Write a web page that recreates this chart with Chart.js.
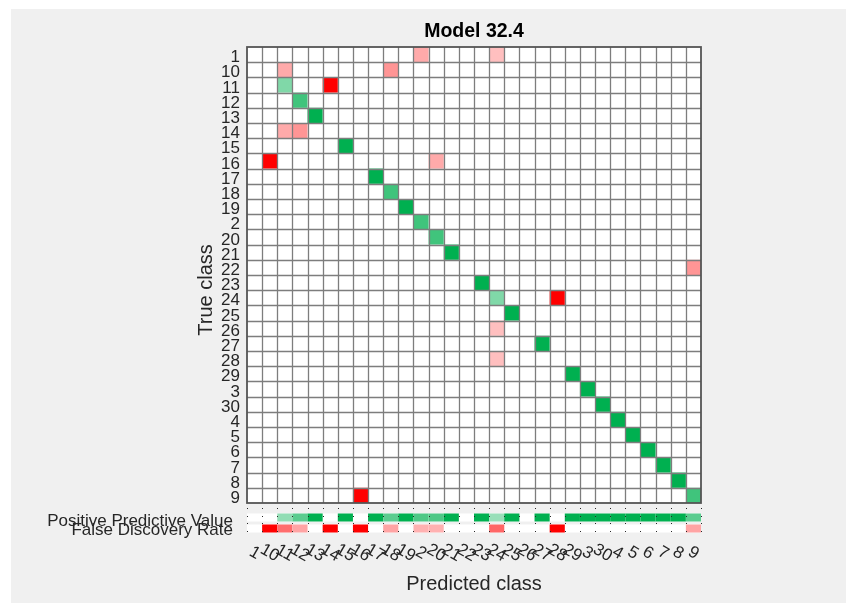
<!DOCTYPE html>
<html><head><meta charset="utf-8">
<script src="https://cdn.jsdelivr.net/npm/chart.js@4.4.1/dist/chart.umd.min.js"></script>
<style>html,body{margin:0;padding:0;background:#fff;overflow:hidden}#wrap{width:846px;height:603px}</style>
</head><body><div id="wrap"><canvas id="c" width="846" height="603"></canvas></div>
<script>
// Class order (as shown on both axes)
const classes = ['1','10','11','12','13','14','15','16','17','18','19','2','20','21','22','23','24','25','26','27','28','29','3','30','4','5','6','7','8','9'];
// Non-zero confusion matrix cells: true class, predicted class, count (estimated from colour intensity)
const trueLabels = ['1','1','10','10','11','11','12','13','14','14','15','16','16','17','18','19','2','20','21','22','23','24','24','25','26','27','28','29','3','30','4','5','6','7','8','9','9'];
const predLabels = ['2','24','11','18','11','14','12','13','11','12','15','10','20','17','18','19','2','20','21','9','23','24','28','25','24','27','24','29','3','30','4','5','6','7','8','9','16'];
const counts     = [4,3,4,5,6,12,9,12,4,5,12,12,4,12,9,12,9,9,12,5,12,6,12,12,3,12,3,12,12,12,12,12,12,12,12,9,12];
const chartTitle = 'Model 32.4';
const xTitle = 'Predicted class';
const yTitle = 'True class';
const summaryLabels = ['Positive Predictive Value','False Discovery Rate'];

const diagRGB = [0,176,80];
const offRGB = [255,0,0];
function tint(rgb, a){
  a = Math.max(0, Math.min(1, a));
  return 'rgb(' + rgb.map(c => Math.round(255 - a*(255 - c))).join(',') + ')';
}
const points = trueLabels.map((t,i) => ({x: classes.indexOf(predLabels[i]), y: classes.indexOf(t), v: counts[i]}));
const maxCount = Math.max(...counts);

// Column summaries derived from the matrix
const colTotals = classes.map((c,j) => points.filter(p => p.x === j).reduce((s,p) => s + p.v, 0));
const colDiag = classes.map((c,j) => points.filter(p => p.x === j && p.y === j).reduce((s,p) => s + p.v, 0));
const ppv = classes.map((c,j) => colTotals[j] ? colDiag[j]/colTotals[j] : null);
const fdr = ppv.map(v => v === null ? null : 1 - v);

const FONT = '"Liberation Sans", Arial, Helvetica, sans-serif';
const TXT = 'rgb(38,38,38)';

const confPlugin = {
  id: 'conf',
  beforeDraw(chart){
    const ctx = chart.ctx;
    ctx.save();
    ctx.fillStyle = '#ffffff';
    ctx.fillRect(0,0,chart.width,chart.height);
    ctx.fillStyle = '#f0f0f0';
    ctx.fillRect(11,9,chart.width-11,chart.height-9);
    ctx.restore();
  },
  afterDatasetsDraw(chart){
    const ctx = chart.ctx;
    const xs = chart.scales.x, ys = chart.scales.y;
    const a = chart.chartArea;
    const n = classes.length;
    ctx.save();
    ctx.fillStyle = '#ffffff';
    ctx.fillRect(a.left, a.top, a.right - a.left, a.bottom - a.top);
    const ds = chart.data.datasets[0].data;
    ds.forEach(p => {
      const x0 = xs.getPixelForValue(p.x - 0.5), x1 = xs.getPixelForValue(p.x + 0.5);
      const y0 = ys.getPixelForValue(p.y - 0.5), y1 = ys.getPixelForValue(p.y + 0.5);
      ctx.fillStyle = tint(p.x === p.y ? diagRGB : offRGB, p.v / maxCount);
      ctx.fillRect(x0, y0, x1 - x0, y1 - y0);
    });
    ctx.strokeStyle = 'rgb(125,125,125)';
    ctx.lineWidth = 1.3;
    for (let k = 1; k < n; k++){
      const x = Math.round(xs.getPixelForValue(k - 0.5)) + 0.5;
      ctx.beginPath(); ctx.moveTo(x, a.top); ctx.lineTo(x, a.bottom); ctx.stroke();
      const y = Math.round(ys.getPixelForValue(k - 0.5)) + 0.5;
      ctx.beginPath(); ctx.moveTo(a.left, y); ctx.lineTo(a.right, y); ctx.stroke();
    }
    ctx.strokeStyle = 'rgb(85,85,85)';
    ctx.lineWidth = 1.8;
    ctx.strokeRect(a.left, a.top, a.right - a.left, a.bottom - a.top);

    // summary rows
    const bandTops = [a.bottom + 10.5, a.bottom + 21.5];
    const bandH = 8;
    ctx.fillStyle = '#ffffff';
    bandTops.forEach(t => ctx.fillRect(a.left, t, a.right - a.left, bandH));
    for (let j = 0; j < n; j++){
      const x0 = xs.getPixelForValue(j - 0.5), x1 = xs.getPixelForValue(j + 0.5);
      if (ppv[j] !== null && ppv[j] > 0){ ctx.fillStyle = tint(diagRGB, ppv[j]); ctx.fillRect(x0, bandTops[0], x1 - x0, bandH); }
      if (fdr[j] !== null && fdr[j] > 0){ ctx.fillStyle = tint(offRGB, fdr[j]); ctx.fillRect(x0, bandTops[1], x1 - x0, bandH); }
    }
    ctx.fillStyle = 'rgb(40,40,40)';
    for (let k = 0; k <= n; k++){
      const x = Math.round(xs.getPixelForValue(k - 0.5));
      [5, 12.5, 20, 27.5].forEach(d => ctx.fillRect(x, Math.round(a.bottom + d), 1, 1));
    }

    // y tick labels
    ctx.fillStyle = TXT;
    ctx.font = '17px ' + FONT;
    ctx.textAlign = 'right';
    ctx.textBaseline = 'alphabetic';
    classes.forEach((c,i) => ctx.fillText(c, a.left - 7, ys.getPixelForValue(i) + 7.5));
    ctx.fillText(summaryLabels[0], a.left - 14, a.bottom + 22.5);
    ctx.fillText(summaryLabels[1], a.left - 14, a.bottom + 32);
    // x tick labels (rotated clockwise)
    ctx.textAlign = 'center';
    ctx.textBaseline = 'middle';
    classes.forEach((c,j) => {
      ctx.save();
      ctx.translate(xs.getPixelForValue(j), a.bottom + 50);
      ctx.rotate(Math.PI * 30 / 180);
      ctx.fillText(c, 0, 0);
      ctx.restore();
    });
    // titles
    const cx = (a.left + a.right) / 2;
    ctx.font = '20px ' + FONT;
    ctx.textBaseline = 'alphabetic';
    ctx.fillText(xTitle, cx, a.bottom + 87);
    ctx.save();
    ctx.translate(a.left - 35, (a.top + a.bottom + 30) / 2);
    ctx.rotate(-Math.PI / 2);
    ctx.fillText(yTitle, 0, 0);
    ctx.restore();
    ctx.fillStyle = '#000';
    ctx.font = 'bold 19.5px ' + FONT;
    ctx.fillText(chartTitle, cx, a.top - 10);
    ctx.restore();
  }
};

new Chart(document.getElementById('c').getContext('2d'), {
  type: 'scatter',
  data: { datasets: [{ data: points, pointRadius: 0, pointHoverRadius: 0, pointHitRadius: 0 }] },
  options: {
    responsive: false, animation: false, devicePixelRatio: 1,
    layout: { padding: { left: 247, top: 47, right: 145, bottom: 100 } },
    scales: {
      x: { type: 'linear', min: -0.5, max: 29.5, display: false },
      y: { type: 'linear', min: -0.5, max: 29.5, reverse: true, display: false }
    },
    plugins: { legend: { display: false }, tooltip: { enabled: false }, title: { display: false } },
    events: []
  },
  plugins: [confPlugin]
});
</script>
</body></html>
